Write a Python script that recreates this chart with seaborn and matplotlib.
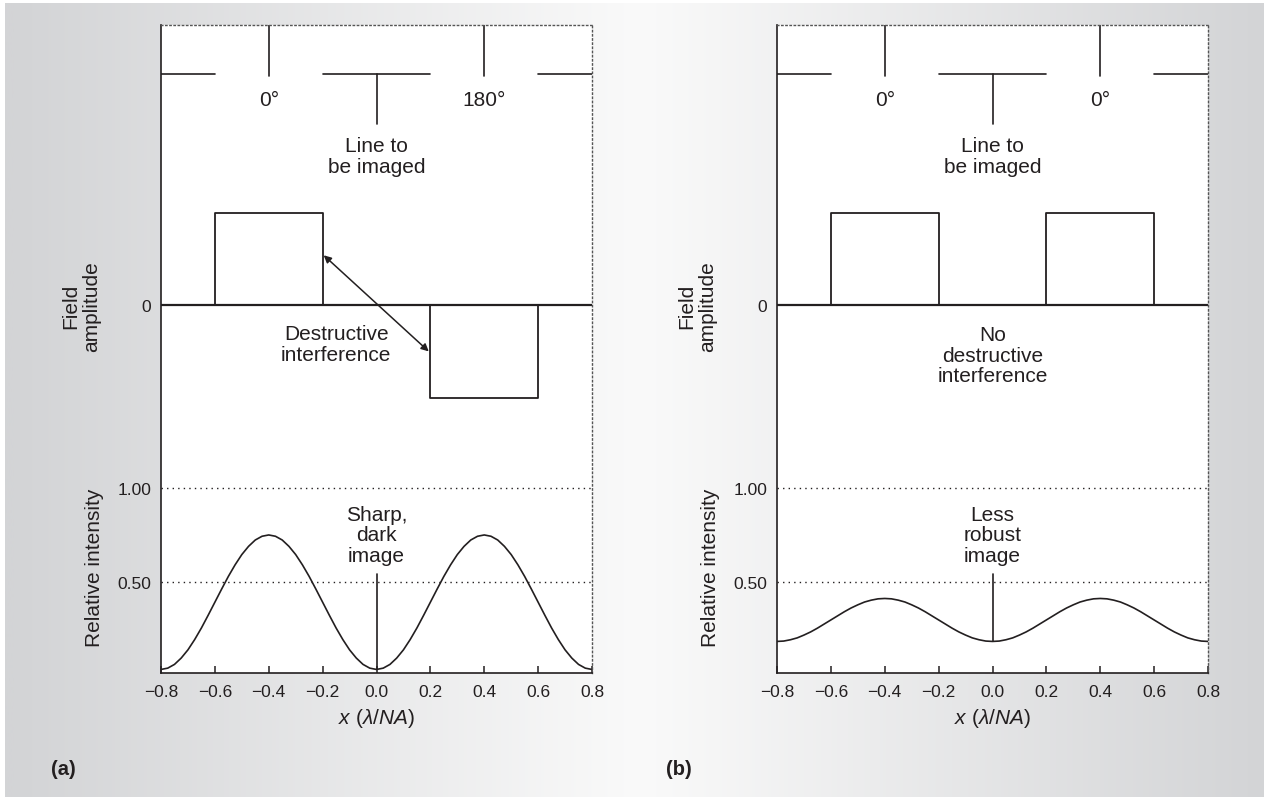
import numpy as np
import matplotlib
matplotlib.use('Agg')
import matplotlib.pyplot as plt
import matplotlib.transforms as mtransforms
import seaborn as sns

# data
x_ticks = [-0.8, -0.6, -0.4, -0.2, 0.0, 0.2, 0.4, 0.6, 0.8]
x_tick_labels = ['\u22120.8', '\u22120.6', '\u22120.4', '\u22120.2', '0.0', '0.2', '0.4', '0.6', '0.8']

# mask (chrome pieces) and phase of the openings
mask_chrome = [(-0.8, -0.6), (-0.2, 0.2), (0.6, 0.8)]
phase_x = [-0.4, 0.4]
phase_a = ['0\u00b0', '180\u00b0']
phase_b = ['0\u00b0', '0\u00b0']

# field amplitude (step outline)
field_x = [-0.8, -0.6, -0.6, -0.2, -0.2, 0.2, 0.2, 0.6, 0.6, 0.8]
field_a = [0, 0, 1, 1, 0, 0, -1, -1, 0, 0]
field_b = [0, 0, 1, 1, 0, 0, 1, 1, 0, 0]

# relative intensity at the wafer
intensity_x = np.linspace(-0.8, 0.8, 65)
intensity_a = [0.030, 0.037, 0.057, 0.091, 0.135, 0.190, 0.252, 0.320, 0.390, 0.460, 0.528, 0.590, 0.645, 0.689, 0.723, 0.743, 0.750,
               0.743, 0.723, 0.689, 0.645, 0.590, 0.528, 0.460, 0.390, 0.320, 0.252, 0.190, 0.135, 0.091, 0.057, 0.037, 0.030,
               0.037, 0.057, 0.091, 0.135, 0.190, 0.252, 0.320, 0.390, 0.460, 0.528, 0.590, 0.645, 0.689, 0.723, 0.743, 0.750,
               0.743, 0.723, 0.689, 0.645, 0.590, 0.528, 0.460, 0.390, 0.320, 0.252, 0.190, 0.135, 0.091, 0.057, 0.037, 0.030]
intensity_b = [0.180, 0.182, 0.189, 0.199, 0.214, 0.231, 0.251, 0.273, 0.295, 0.317, 0.339, 0.359, 0.376, 0.391, 0.401, 0.408, 0.410,
               0.408, 0.401, 0.391, 0.376, 0.359, 0.339, 0.317, 0.295, 0.273, 0.251, 0.231, 0.214, 0.199, 0.189, 0.182, 0.180,
               0.182, 0.189, 0.199, 0.214, 0.231, 0.251, 0.273, 0.295, 0.317, 0.339, 0.359, 0.376, 0.391, 0.401, 0.408, 0.410,
               0.408, 0.401, 0.391, 0.376, 0.359, 0.339, 0.317, 0.295, 0.273, 0.251, 0.231, 0.214, 0.199, 0.189, 0.182, 0.180]

sns.set_theme(style='white')
plt.rcParams['font.family'] = ['Liberation Sans', 'DejaVu Sans']
plt.rcParams['mathtext.fontset'] = 'custom'
plt.rcParams['mathtext.rm'] = 'Liberation Sans'
plt.rcParams['mathtext.it'] = 'Liberation Sans:italic'

INK = '#231f20'
W, H = 1269, 803
fig = plt.figure(figsize=(W / 100, H / 100), dpi=100)

# grey gradient backdrop, lightest in the middle
bg = fig.add_axes([0, 0, 1, 1], zorder=-10)
bg.set_xlim(0, W)
bg.set_ylim(H, 0)
bg.axis('off')
cols = np.linspace(5, 1264, 600)
dark = np.array([211, 212, 214]) / 255
light = np.array([250, 250, 250]) / 255
t = np.clip(np.abs(cols - 640) / 625, 0, 1)[:, None]
grad = (light * (1 - t) + dark * t)[None, :, :]
bg.imshow(grad, extent=[5, 1264, 798, 4], aspect='auto', interpolation='bilinear')

FIELD_ZERO = 1.98
FIELD_SCALE = 0.495
MASK_Y = 3.22
Y_TOP = 3.48
AX_W = 431


def panel(left_px, field, phases, intensity, mid_text, img_text, tag):
    ax = fig.add_axes([left_px / W, 1 - 674 / H, AX_W / W, (674 - 26) / H])
    ax.set_facecolor('white')
    ax.set_xlim(-0.8, 0.8)
    ax.set_ylim(0.011, Y_TOP)

    # dotted guide lines
    for yv in [0.5, 1.0]:
        ax.axhline(yv, color=INK, lw=1.0, ls=(0, (1, 3)), zorder=1)

    # mask with phase markers
    for a, b in mask_chrome:
        ax.plot([a, b], [MASK_Y, MASK_Y], color=INK, lw=1.2)
    for px, lab in zip(phase_x, phases):
        ax.plot([px, px], [Y_TOP, 3.205], color=INK, lw=1.2)
        ax.text(px, 3.08, lab, ha='center', va='center', fontsize=15, color=INK)
    ax.plot([0, 0], [MASK_Y, 2.95], color=INK, lw=1.2)
    ax.text(0, 2.78, 'Line to\nbe imaged', ha='center', va='center', fontsize=15,
            color=INK, linespacing=1.1)

    # field amplitude: zero line plus the boxes
    ax.axhline(FIELD_ZERO, color=INK, lw=1.6)
    fy = FIELD_ZERO + FIELD_SCALE * np.array(field, dtype=float)
    sns.lineplot(x=field_x, y=fy, sort=False, estimator=None, ax=ax, color=INK, lw=1.3)

    # intensity
    sns.lineplot(x=intensity_x, y=intensity, ax=ax, color=INK, lw=1.2)
    ax.plot([0, 0], [min(intensity), 0.54], color=INK, lw=1.2)
    ax.text(0, 0.75, img_text, ha='center', va='center', fontsize=15, color=INK, linespacing=1.1)

    ax.text(mid_text[0], mid_text[1], mid_text[2], ha='center', va='center', fontsize=15,
            color=INK, linespacing=1.1)

    # axes styling
    for s in ['left', 'bottom']:
        ax.spines[s].set_color(INK)
        ax.spines[s].set_linewidth(1.2)
    for s in ['top', 'right']:
        ax.spines[s].set_color('#555555')
        ax.spines[s].set_linewidth(1.0)
        ax.spines[s].set_linestyle((0, (1, 2)))
    ax.set_xticks(x_ticks)
    ax.set_xticklabels(x_tick_labels)
    ax.tick_params(axis='x', direction='in', length=5, width=1.1, color=INK,
                   labelsize=12.5, labelcolor=INK, pad=8, bottom=True)
    ax.set_yticks([0.5, 1.0, FIELD_ZERO])
    ax.set_yticklabels(['0.50', '1.00', '0'])
    ax.tick_params(axis='y', length=0, labelsize=12.5, labelcolor=INK, pad=7, left=True)
    ax.set_xlabel(r'$x$ ($\lambda$/$NA$)', fontsize=15, color=INK, labelpad=5)

    tr = mtransforms.blended_transform_factory(ax.transAxes, ax.transData)
    ax.text(-80 / AX_W, FIELD_ZERO, 'Field\namplitude', rotation=90, ha='center', va='center',
            fontsize=15, color=INK, transform=tr, linespacing=1.1)
    ax.text(-67 / AX_W, 0.58, 'Relative intensity', rotation=90, ha='center', va='center',
            fontsize=15, color=INK, transform=tr)

    fig.text((left_px - 98) / W, 1 - 770 / H, tag, ha='center', va='center', fontsize=14.5,
             fontweight='bold', color=INK)
    return ax


ax_a = panel(161, field_a, phase_a, intensity_a,
             (-0.15, FIELD_ZERO - 0.42 * FIELD_SCALE, 'Destructive\ninterference'),
             'Sharp,\ndark\nimage', '(a)')
ax_a.annotate('', xy=(0.194, FIELD_ZERO - 0.5 * FIELD_SCALE),
              xytext=(-0.196, FIELD_ZERO + 0.54 * FIELD_SCALE),
              arrowprops=dict(arrowstyle='<|-|>', color=INK, lw=1.1, mutation_scale=11,
                              shrinkA=0, shrinkB=0))

ax_b = panel(777, field_b, phase_b, intensity_b,
             (0.0, FIELD_ZERO - 0.54 * FIELD_SCALE, 'No\ndestructive\ninterference'),
             'Less\nrobust\nimage', '(b)')

fig.savefig('out.png', dpi=100, facecolor='white')
